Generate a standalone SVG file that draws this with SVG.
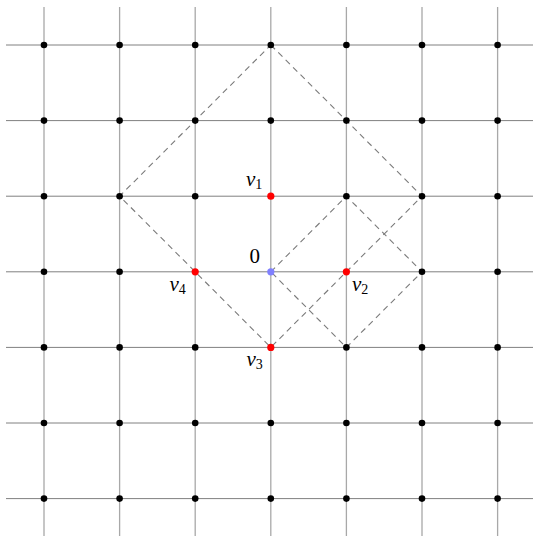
<svg xmlns="http://www.w3.org/2000/svg" width="533" height="536" viewBox="0 0 533 536">
  <style>
    .vl { stroke: #a8a8a8; stroke-width: 1.3; fill: none; }
    .hl { stroke: #808080; stroke-width: 1; fill: none; }
    .dash { stroke: #7a7a7a; stroke-width: 1.1; stroke-dasharray: 6 4.5; fill: none; }
    .pt { fill: #000; }
    .red { fill: #ff0000; }
    .blue { fill: #8080ff; }
    .lbl { font-size: 21px; fill: #000; }
    .it { font-style: italic; }
    .sub { font-size: 14px; font-style: normal; }
  </style>
  <rect width="533" height="536" fill="#fff"/>
  <g id="grid">
    <line class="vl" x1="44" y1="7" x2="44" y2="536"/>
    <line class="vl" x1="119.6" y1="7" x2="119.6" y2="536"/>
    <line class="vl" x1="195.2" y1="7" x2="195.2" y2="536"/>
    <line class="vl" x1="270.8" y1="7" x2="270.8" y2="536"/>
    <line class="vl" x1="346.4" y1="7" x2="346.4" y2="536"/>
    <line class="vl" x1="422" y1="7" x2="422" y2="536"/>
    <line class="vl" x1="497.6" y1="7" x2="497.6" y2="536"/>
    <line class="hl" x1="6" y1="45" x2="533" y2="45"/>
    <line class="hl" x1="6" y1="120.6" x2="533" y2="120.6"/>
    <line class="hl" x1="6" y1="196.2" x2="533" y2="196.2"/>
    <line class="hl" x1="6" y1="271.8" x2="533" y2="271.8"/>
    <line class="hl" x1="6" y1="347.4" x2="533" y2="347.4"/>
    <line class="hl" x1="6" y1="423" x2="533" y2="423"/>
    <line class="hl" x1="6" y1="498.6" x2="533" y2="498.6"/>
  </g>
  <g id="connectors">
    <polygon class="dash" points="270.8,45 422,196.2 270.8,347.4 119.6,196.2"/>
    <polygon class="dash" points="270.8,271.8 346.4,196.2 422,271.8 346.4,347.4"/>
  </g>
  <g id="lattice-points">
    <g id="row0">
      <circle class="pt" cx="44" cy="45" r="3.3"/><circle class="pt" cx="119.6" cy="45" r="3.3"/><circle class="pt" cx="195.2" cy="45" r="3.3"/><circle class="pt" cx="270.8" cy="45" r="3.3"/><circle class="pt" cx="346.4" cy="45" r="3.3"/><circle class="pt" cx="422" cy="45" r="3.3"/><circle class="pt" cx="497.6" cy="45" r="3.3"/>
    </g>
    <g id="row1">
      <circle class="pt" cx="44" cy="120.6" r="3.3"/><circle class="pt" cx="119.6" cy="120.6" r="3.3"/><circle class="pt" cx="195.2" cy="120.6" r="3.3"/><circle class="pt" cx="270.8" cy="120.6" r="3.3"/><circle class="pt" cx="346.4" cy="120.6" r="3.3"/><circle class="pt" cx="422" cy="120.6" r="3.3"/><circle class="pt" cx="497.6" cy="120.6" r="3.3"/>
    </g>
    <g id="row2">
      <circle class="pt" cx="44" cy="196.2" r="3.3"/><circle class="pt" cx="119.6" cy="196.2" r="3.3"/><circle class="pt" cx="195.2" cy="196.2" r="3.3"/><circle class="pt" cx="346.4" cy="196.2" r="3.3"/><circle class="pt" cx="422" cy="196.2" r="3.3"/><circle class="pt" cx="497.6" cy="196.2" r="3.3"/>
    </g>
    <g id="row3">
      <circle class="pt" cx="44" cy="271.8" r="3.3"/><circle class="pt" cx="119.6" cy="271.8" r="3.3"/><circle class="pt" cx="422" cy="271.8" r="3.3"/><circle class="pt" cx="497.6" cy="271.8" r="3.3"/>
    </g>
    <g id="row4">
      <circle class="pt" cx="44" cy="347.4" r="3.3"/><circle class="pt" cx="119.6" cy="347.4" r="3.3"/><circle class="pt" cx="195.2" cy="347.4" r="3.3"/><circle class="pt" cx="346.4" cy="347.4" r="3.3"/><circle class="pt" cx="422" cy="347.4" r="3.3"/><circle class="pt" cx="497.6" cy="347.4" r="3.3"/>
    </g>
    <g id="row5">
      <circle class="pt" cx="44" cy="423" r="3.3"/><circle class="pt" cx="119.6" cy="423" r="3.3"/><circle class="pt" cx="195.2" cy="423" r="3.3"/><circle class="pt" cx="270.8" cy="423" r="3.3"/><circle class="pt" cx="346.4" cy="423" r="3.3"/><circle class="pt" cx="422" cy="423" r="3.3"/><circle class="pt" cx="497.6" cy="423" r="3.3"/>
    </g>
    <g id="row6">
      <circle class="pt" cx="44" cy="498.6" r="3.3"/><circle class="pt" cx="119.6" cy="498.6" r="3.3"/><circle class="pt" cx="195.2" cy="498.6" r="3.3"/><circle class="pt" cx="270.8" cy="498.6" r="3.3"/><circle class="pt" cx="346.4" cy="498.6" r="3.3"/><circle class="pt" cx="422" cy="498.6" r="3.3"/><circle class="pt" cx="497.6" cy="498.6" r="3.3"/>
    </g>
  </g>
  <g id="origin">
    <circle class="blue" cx="270.8" cy="271.8" r="3.6"/>
    <text class="lbl" font-family="'Liberation Serif', 'DejaVu Serif', serif" x="249.5" y="263">0</text>
  </g>
  <g id="v1">
    <circle class="red" cx="270.8" cy="196.2" r="3.6"/>
    <text class="lbl it" font-family="'Liberation Serif', 'DejaVu Serif', serif" x="246" y="186">v<tspan class="sub" dy="3">1</tspan></text>
  </g>
  <g id="v2">
    <circle class="red" cx="346.4" cy="271.8" r="3.6"/>
    <text class="lbl it" font-family="'Liberation Serif', 'DejaVu Serif', serif" x="352" y="291">v<tspan class="sub" dy="3">2</tspan></text>
  </g>
  <g id="v3">
    <circle class="red" cx="270.8" cy="347.4" r="3.6"/>
    <text class="lbl it" font-family="'Liberation Serif', 'DejaVu Serif', serif" x="246.5" y="366">v<tspan class="sub" dy="3">3</tspan></text>
  </g>
  <g id="v4">
    <circle class="red" cx="195.2" cy="271.8" r="3.6"/>
    <text class="lbl it" font-family="'Liberation Serif', 'DejaVu Serif', serif" x="169.5" y="291">v<tspan class="sub" dy="3">4</tspan></text>
  </g>
</svg>
